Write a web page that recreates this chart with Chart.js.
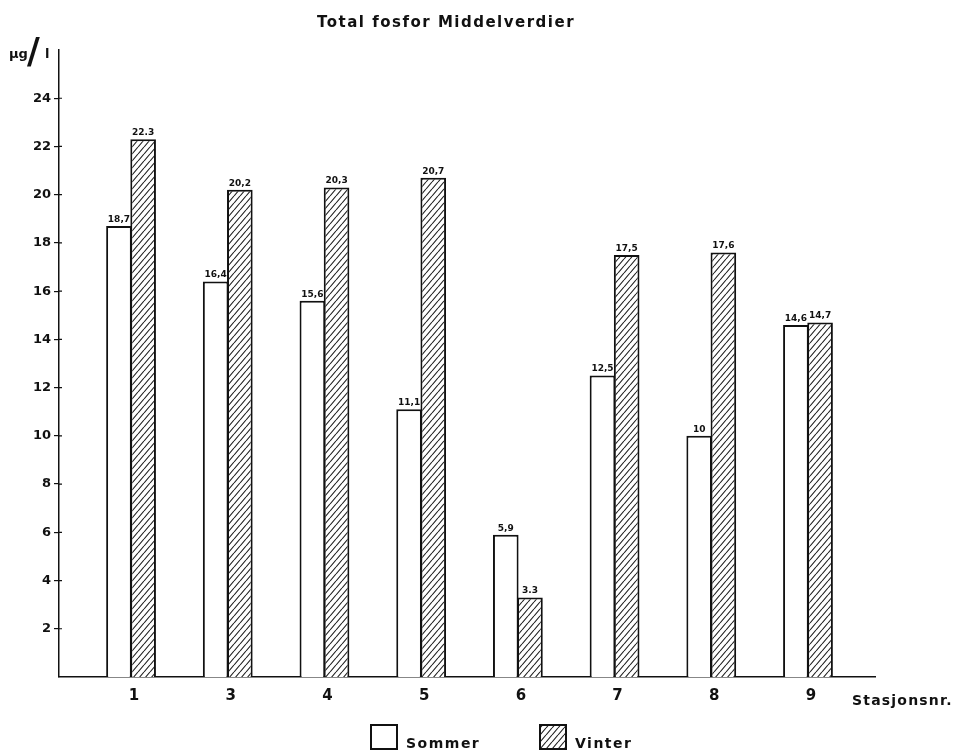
<!DOCTYPE html>
<html lang="no">
<head>
<meta charset="utf-8">
<title>Total fosfor Middelverdier</title>
<script src="https://cdn.jsdelivr.net/npm/chart.js@4.4.1/dist/chart.umd.min.js"></script>
<style>
  html, body { margin: 0; padding: 0; background: #fff; }
  canvas { display: block; }
</style>
</head>
<body>
<canvas id="fosforChart" width="963" height="752"></canvas>
<script>
// stasjoner og middelverdier (µg/l)
const stations = ['1', '3', '4', '5', '6', '7', '8', '9'];
const sommer = [18.7, 16.4, 15.6, 11.1, 5.9, 12.5, 10, 14.6];
const vinter = [22.3, 20.2, 20.3, 20.7, 3.3, 17.5, 17.6, 14.7];
const sommerLabels = ['18,7', '16,4', '15,6', '11,1', '5,9', '12,5', '10', '14,6'];
const vinterLabels = ['22.3', '20,2', '20,3', '20,7', '3.3', '17,5', '17,6', '14,7'];
const yTicks = [2, 4, 6, 8, 10, 12, 14, 16, 18, 20, 22, 24];
const seriesNames = ['Sommer', 'Vinter'];

const FONT = "'DejaVu Sans', sans-serif";
const INK = '#111';

const canvas = document.getElementById('fosforChart');
const ctx = canvas.getContext('2d');

// skravur for vinter-søylene
function hatchPattern() {
    const w = 6, h = 7;
    const tile = document.createElement('canvas');
    tile.width = w;
    tile.height = h;
    const g = tile.getContext('2d');
    g.fillStyle = '#fff';
    g.fillRect(0, 0, w, h);
    g.strokeStyle = '#222';
    g.lineWidth = 1.1;
    g.beginPath();
    [-w, 0, w].forEach(dx => {
        g.moveTo(dx, h);
        g.lineTo(dx + w, 0);
    });
    g.stroke();
    return ctx.createPattern(tile, 'repeat');
}

const hatch = hatchPattern();

// tekster som ikke er en del av aksene
const annotations = {
    id: 'annotations',
    afterDatasetsDraw(chart) {
        const c = chart.ctx;
        const labels = [sommerLabels, vinterLabels];
        c.save();
        c.fillStyle = INK;
        c.font = `bold 9px ${FONT}`;
        c.textAlign = 'center';
        c.textBaseline = 'bottom';
        chart.data.datasets.forEach((ds, di) => {
            chart.getDatasetMeta(di).data.forEach((bar, i) => {
                c.fillText(labels[di][i], bar.x, bar.y - 2);
            });
        });

        // korte merker også innenfor y-aksen
        const y = chart.scales.y;
        c.strokeStyle = INK;
        c.lineWidth = 1.2;
        c.beginPath();
        y.ticks.forEach(t => {
            const py = y.getPixelForValue(t.value);
            c.moveTo(y.right, py);
            c.lineTo(y.right + 3, py);
        });
        c.stroke();
        c.restore();
    },
    afterDraw(chart) {
        const c = chart.ctx;
        c.save();
        c.fillStyle = INK;
        c.textBaseline = 'alphabetic';

        // tittel
        c.letterSpacing = '1.5px';
        c.font = `bold 15px ${FONT}`;
        c.textAlign = 'center';
        c.fillText('Total fosfor Middelverdier', 446, 27);

        // enhet
        c.letterSpacing = '0px';
        c.textAlign = 'left';
        c.font = `bold 13px ${FONT}`;
        c.fillText('µg', 9, 58);
        c.font = `bold 35px ${FONT}`;
        c.fillText('/', 27, 63);
        c.font = `bold 13px ${FONT}`;
        c.fillText('l', 45, 58);

        // x-aksetittel
        c.letterSpacing = '1.2px';
        c.font = `bold 14px ${FONT}`;
        c.fillText('Stasjonsnr.', 852, 705);

        // tegnforklaring
        const items = [
            { x: 371, ds: chart.data.datasets[0] },
            { x: 540, ds: chart.data.datasets[1] }
        ];
        items.forEach(item => {
            c.fillStyle = item.ds.backgroundColor;
            c.fillRect(item.x, 725, 26, 24);
            c.strokeStyle = INK;
            c.lineWidth = 2;
            c.strokeRect(item.x, 725, 26, 24);
            c.fillStyle = INK;
            c.letterSpacing = '1.5px';
            c.font = `bold 14px ${FONT}`;
            c.fillText(item.ds.label, item.x + 35, 748);
        });
        c.restore();
    }
};

const barStyle = {
    borderColor: INK,
    borderWidth: 2,
    borderSkipped: 'bottom',
    barPercentage: 1.06,
    categoryPercentage: 0.5
};

new Chart(ctx, {
    type: 'bar',
    data: {
        datasets: [
            {
                label: seriesNames[0],
                data: sommer.map((v, i) => ({ x: i + 1, y: v })),
                backgroundColor: '#fff',
                ...barStyle
            },
            {
                label: seriesNames[1],
                data: vinter.map((v, i) => ({ x: i + 1, y: v })),
                backgroundColor: hatch,
                ...barStyle
            }
        ]
    },
    options: {
        responsive: false,
        animation: false,
        layout: { padding: { top: 50, left: 9, right: 88, bottom: 35 } },
        plugins: {
            legend: { display: false },
            title: { display: false },
            tooltip: { enabled: false }
        },
        scales: {
            x: {
                type: 'linear',
                min: 0.255,
                max: 8.693,
                offset: false,
                grid: { drawOnChartArea: false, drawTicks: false, offset: false },
                border: { color: INK, width: 1.5 },
                ticks: {
                    color: INK,
                    font: { family: FONT, size: 15, weight: 'bold' },
                    padding: 10,
                    labelOffset: 3,
                    callback: v => stations[v - 1]
                },
                afterBuildTicks: scale => {
                    scale.ticks = stations.map((s, i) => ({ value: i + 1 }));
                },
                afterFit: scale => { scale.height = 40; }
            },
            y: {
                min: 0,
                max: 26,
                grid: { drawOnChartArea: false, tickLength: 5, color: INK, lineWidth: 1.2 },
                border: { color: INK, width: 1.5 },
                ticks: {
                    color: INK,
                    font: { family: FONT, size: 13, weight: 'bold' },
                    padding: 3
                },
                afterBuildTicks: scale => {
                    scale.ticks = yTicks.map(v => ({ value: v }));
                },
                afterFit: scale => { scale.width = 50; }
            }
        }
    },
    plugins: [annotations]
});
</script>
</body>
</html>
